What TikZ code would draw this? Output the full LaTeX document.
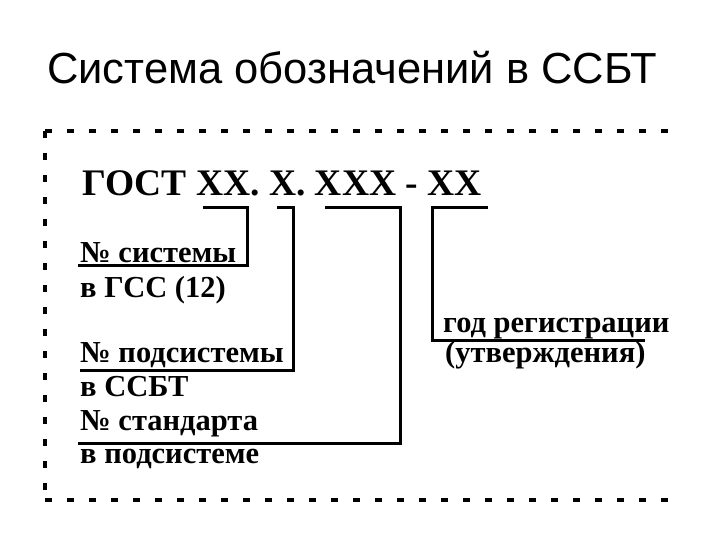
\documentclass[tikz,border=0pt]{standalone}
\usepackage{fontspec}
\setmainfont{Liberation Serif}
\newfontfamily\titlefont{Liberation Sans}
\begin{document}
\begin{tikzpicture}[x=1pt,y=-1pt,
  lbl/.style={anchor=base west,inner sep=0pt,font=\fontsize{30.5}{30.5}\selectfont\bfseries},
  mainlbl/.style={anchor=base west,inner sep=0pt,font=\fontsize{37.5}{37.5}\selectfont\bfseries},
  brk/.style={line width=3pt,line join=miter},
  border/.style={line width=4pt,dash pattern=on 7pt off 15pt}]
\useasboundingbox (0,0) rectangle (720,540);
\node[anchor=base west,inner sep=0pt,font=\titlefont\fontsize{43.5}{43.5}\selectfont] (title) at (47,84) {Система обозначений в ССБТ};
\draw[border] (45,131) -- (668,131);
\draw[border] (45,500) -- (668,500);
\draw[border] (45,131) -- (45,500);
\node[mainlbl] (gost) at (82,196) {ГОСТ XX. X. XXX - XX};
\node[lbl] (sys) at (80,262) {№ системы};
\node[lbl] (gss) at (80,297) {в ГСС (12)};
\node[lbl] (sub) at (80,362) {№ подсистемы};
\node[lbl] (ssbt) at (80,396) {в ССБТ};
\node[lbl] (std) at (80,430) {№ стандарта};
\node[lbl] (insub) at (80,463) {в подсистеме};
\node[lbl] (year) at (443,332) {год регистрации};
\node[lbl] (appr) at (445,362) {(утверждения)};
\coordinate (a1) at (203,208);
\coordinate (a2) at (247,208);
\coordinate (a3) at (247,265);
\coordinate (a4) at (78,265);
\draw[brk] (a1) -- (a2) -- (a3) -- (a4);
\coordinate (b1) at (277,208);
\coordinate (b2) at (293,208);
\coordinate (b3) at (293,370);
\coordinate (b4) at (80,370);
\draw[brk] (b1) -- (b2) -- (b3) -- (b4);
\coordinate (c1) at (325,208);
\coordinate (c2) at (400,208);
\coordinate (c3) at (400,443);
\coordinate (c4) at (78,443);
\draw[brk] (c1) -- (c2) -- (c3) -- (c4);
\coordinate (d1) at (488,208);
\coordinate (d2) at (432,208);
\coordinate (d3) at (432,340);
\coordinate (d4) at (645,340);
\draw[brk] (d1) -- (d2) -- (d3) -- (d4);
\end{tikzpicture}
\end{document}
